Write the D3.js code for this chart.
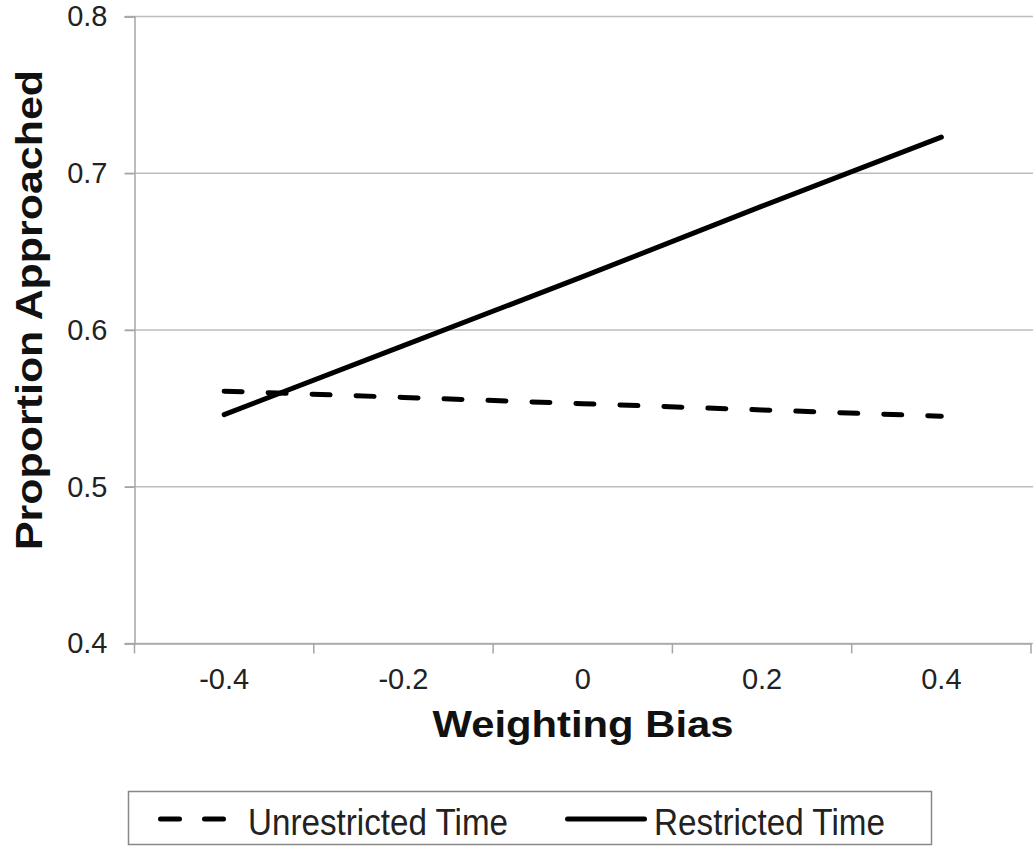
<!DOCTYPE html>
<html>
<head>
<meta charset="utf-8">
<script src="https://cdn.jsdelivr.net/npm/d3@7"></script>
<style>
  body { margin: 0; background: #fff; }
  svg { display: block; font-family: "Liberation Sans", Arial, sans-serif; }
</style>
</head>
<body>
<svg id="chart" width="1033" height="846"></svg>
<script>
// data
var categories = ["-0.4", "-0.2", "0", "0.2", "0.4"];
var unrestricted = [0.561, 0.557, 0.553, 0.549, 0.545];
var restricted = [0.546, 0.590, 0.634, 0.679, 0.723];
var yTicks = [0.4, 0.5, 0.6, 0.7, 0.8];
var seriesNames = ["Unrestricted Time", "Restricted Time"];

var svg = d3.select("#chart");

// scales
var x = d3.scaleBand().domain(categories).range([134.5, 1031]).padding(0);
var y = d3.scaleLinear().domain([0.4, 0.8]).range([643.5, 16.5]);

// gridlines
svg.append("g")
  .selectAll("line")
  .data(yTicks)
  .enter()
  .append("line")
  .attr("x1", 125)
  .attr("x2", 1033)
  .attr("y1", function (d) { return y(d); })
  .attr("y2", function (d) { return y(d); })
  .attr("stroke", "#bdbdbd")
  .attr("stroke-width", 1.5);

// y axis
var yAxis = svg.append("g")
  .attr("transform", "translate(134.5,0)")
  .call(d3.axisLeft(y).tickValues(yTicks).tickFormat(d3.format(".1f")).tickSize(10).tickPadding(17));
yAxis.select(".domain").attr("stroke", "#a6a6a6").attr("stroke-width", 1.5);
yAxis.selectAll(".tick line").attr("stroke", "#a6a6a6").attr("stroke-width", 1.5);
yAxis.selectAll("text")
  .attr("font-size", 29)
  .attr("fill", "#222")
  .attr("font-family", "Liberation Sans, Arial, sans-serif");

// x axis, ticks between categories
var xAxis = svg.append("g")
  .attr("transform", "translate(0,643.5)")
  .call(d3.axisBottom(x).tickSize(0).tickPadding(25));
xAxis.select(".domain").attr("stroke", "#a6a6a6").attr("stroke-width", 1.5);
xAxis.selectAll("text")
  .attr("font-size", 29)
  .attr("fill", "#222")
  .attr("font-family", "Liberation Sans, Arial, sans-serif");
xAxis.append("g")
  .selectAll("line")
  .data(d3.range(categories.length + 1))
  .enter()
  .append("line")
  .attr("x1", function (i) { return x.range()[0] + i * x.step(); })
  .attr("x2", function (i) { return x.range()[0] + i * x.step(); })
  .attr("y1", 0)
  .attr("y2", 10)
  .attr("stroke", "#a6a6a6")
  .attr("stroke-width", 1.5);

// lines
var line = d3.line()
  .x(function (d, i) { return x(categories[i]) + x.bandwidth() / 2; })
  .y(function (d) { return y(d); });

svg.append("path")
  .datum(unrestricted)
  .attr("d", line)
  .attr("fill", "none")
  .attr("stroke", "#000")
  .attr("stroke-width", 5)
  .attr("stroke-linecap", "round")
  .attr("stroke-dasharray", "18,26");

svg.append("path")
  .datum(restricted)
  .attr("d", line)
  .attr("fill", "none")
  .attr("stroke", "#000")
  .attr("stroke-width", 5)
  .attr("stroke-linecap", "round");

// axis titles
svg.append("text")
  .attr("x", 583)
  .attr("y", 737)
  .attr("text-anchor", "middle")
  .attr("font-size", 36)
  .attr("font-weight", "bold")
  .attr("fill", "#111")
  .attr("textLength", 301)
  .attr("lengthAdjust", "spacingAndGlyphs")
  .text("Weighting  Bias");

svg.append("text")
  .attr("transform", "translate(42,310) rotate(-90)")
  .attr("text-anchor", "middle")
  .attr("font-size", 36)
  .attr("font-weight", "bold")
  .attr("fill", "#111")
  .attr("textLength", 480)
  .attr("lengthAdjust", "spacingAndGlyphs")
  .text("Proportion Approached");

// legend
var legend = svg.append("g");
legend.append("rect")
  .attr("x", 128.5)
  .attr("y", 791.5)
  .attr("width", 803)
  .attr("height", 53)
  .attr("fill", "#fff")
  .attr("stroke", "#888")
  .attr("stroke-width", 1.5);

legend.append("line")
  .attr("x1", 160.5).attr("x2", 225.5)
  .attr("y1", 819).attr("y2", 819)
  .attr("stroke", "#000")
  .attr("stroke-width", 5)
  .attr("stroke-linecap", "round")
  .attr("stroke-dasharray", "19,25");

legend.append("line")
  .attr("x1", 567.5).attr("x2", 644.5)
  .attr("y1", 819).attr("y2", 819)
  .attr("stroke", "#000")
  .attr("stroke-width", 5)
  .attr("stroke-linecap", "round");

legend.append("text")
  .attr("x", 248)
  .attr("y", 835)
  .attr("font-size", 37)
  .attr("fill", "#222")
  .attr("textLength", 260)
  .attr("lengthAdjust", "spacingAndGlyphs")
  .text(seriesNames[0]);

legend.append("text")
  .attr("x", 654)
  .attr("y", 835)
  .attr("font-size", 37)
  .attr("fill", "#222")
  .attr("textLength", 231)
  .attr("lengthAdjust", "spacingAndGlyphs")
  .text(seriesNames[1]);
</script>
</body>
</html>
